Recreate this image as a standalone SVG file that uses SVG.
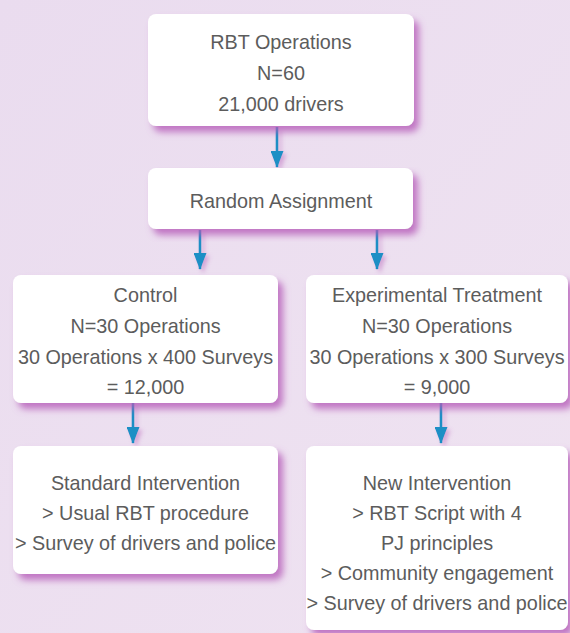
<svg xmlns="http://www.w3.org/2000/svg" width="570" height="633" viewBox="0 0 570 633">
  <defs>
    <linearGradient id="bg" x1="0" y1="0" x2="1" y2="1">
      <stop offset="0" stop-color="#eadcef"/>
      <stop offset="1" stop-color="#efe3f1"/>
    </linearGradient>
    <filter id="shadow" x="-10%" y="-10%" width="125%" height="130%">
      <feGaussianBlur in="SourceAlpha" stdDeviation="3.5"/>
      <feOffset dx="5" dy="6" result="b"/>
      <feFlood flood-color="#b55ab8" flood-opacity="0.8"/>
      <feComposite in2="b" operator="in"/>
      <feMerge>
        <feMergeNode/>
        <feMergeNode in="SourceGraphic"/>
      </feMerge>
    </filter>
    <filter id="ashadow" x="-100%" y="-20%" width="300%" height="150%">
      <feGaussianBlur in="SourceAlpha" stdDeviation="2"/>
      <feOffset dx="3" dy="3" result="b"/>
      <feFlood flood-color="#b65fb8" flood-opacity="0.45"/>
      <feComposite in2="b" operator="in"/>
      <feMerge>
        <feMergeNode/>
        <feMergeNode in="SourceGraphic"/>
      </feMerge>
    </filter>
    <marker id="head" markerWidth="17" markerHeight="13" refX="16" refY="6.5" orient="auto" markerUnits="userSpaceOnUse" viewBox="0 0 17 13">
      <path d="M0,0 L17,6.5 L0,13 Z" fill="#1a8fc5"/>
    </marker>
  </defs>
  <style>
    .box { fill: #ffffff; filter: url(#shadow); }
    .lbl { font-family: "Liberation Sans", Arial, sans-serif; font-size: 19.8px; fill: #5c5c5c; text-anchor: middle; }
    .arr { stroke: #1a8fc5; stroke-width: 2.6; fill: none; marker-end: url(#head); }
  </style>

  <rect width="570" height="633" fill="url(#bg)"/>

  <g id="connectors" filter="url(#ashadow)">
    <line class="arr" x1="277" y1="127" x2="277" y2="167"/>
    <line class="arr" x1="200" y1="230" x2="200" y2="269"/>
    <line class="arr" x1="377" y1="230" x2="377" y2="269"/>
    <line class="arr" x1="133" y1="403" x2="133" y2="443"/>
    <line class="arr" x1="441" y1="403" x2="441" y2="443"/>
  </g>

  <g id="rbt-operations">
    <rect class="box" x="148" y="14" width="266" height="112" rx="8"/>
    <text class="lbl" x="281" y="49">RBT Operations</text>
    <text class="lbl" x="281" y="80">N=60</text>
    <text class="lbl" x="281" y="111">21,000 drivers</text>
  </g>

  <g id="random-assignment">
    <rect class="box" x="148" y="168" width="265" height="61" rx="8"/>
    <text class="lbl" x="281" y="208">Random Assignment</text>
  </g>

  <g id="control">
    <rect class="box" x="13" y="275" width="265" height="128" rx="8"/>
    <text class="lbl" x="145.5" y="302">Control</text>
    <text class="lbl" x="145.5" y="333">N=30 Operations</text>
    <text class="lbl" x="145.5" y="364">30 Operations x 400 Surveys</text>
    <text class="lbl" x="145.5" y="394">= 12,000</text>
  </g>

  <g id="experimental">
    <rect class="box" x="306" y="275" width="262" height="128" rx="8"/>
    <text class="lbl" x="437" y="302">Experimental Treatment</text>
    <text class="lbl" x="437" y="333">N=30 Operations</text>
    <text class="lbl" x="437" y="364">30 Operations x 300 Surveys</text>
    <text class="lbl" x="437" y="394">= 9,000</text>
  </g>

  <g id="standard-intervention">
    <rect class="box" x="13" y="446" width="265" height="128" rx="8"/>
    <text class="lbl" x="145.5" y="490">Standard Intervention</text>
    <text class="lbl" x="145.5" y="520">&gt; Usual RBT procedure</text>
    <text class="lbl" x="145.5" y="550">&gt; Survey of drivers and police</text>
  </g>

  <g id="new-intervention">
    <rect class="box" x="306" y="446" width="262" height="184" rx="8"/>
    <text class="lbl" x="437" y="490">New Intervention</text>
    <text class="lbl" x="437" y="520">&gt; RBT Script with 4</text>
    <text class="lbl" x="437" y="550">PJ principles</text>
    <text class="lbl" x="437" y="580">&gt; Community engagement</text>
    <text class="lbl" x="437" y="610">&gt; Survey of drivers and police</text>
  </g>
</svg>
